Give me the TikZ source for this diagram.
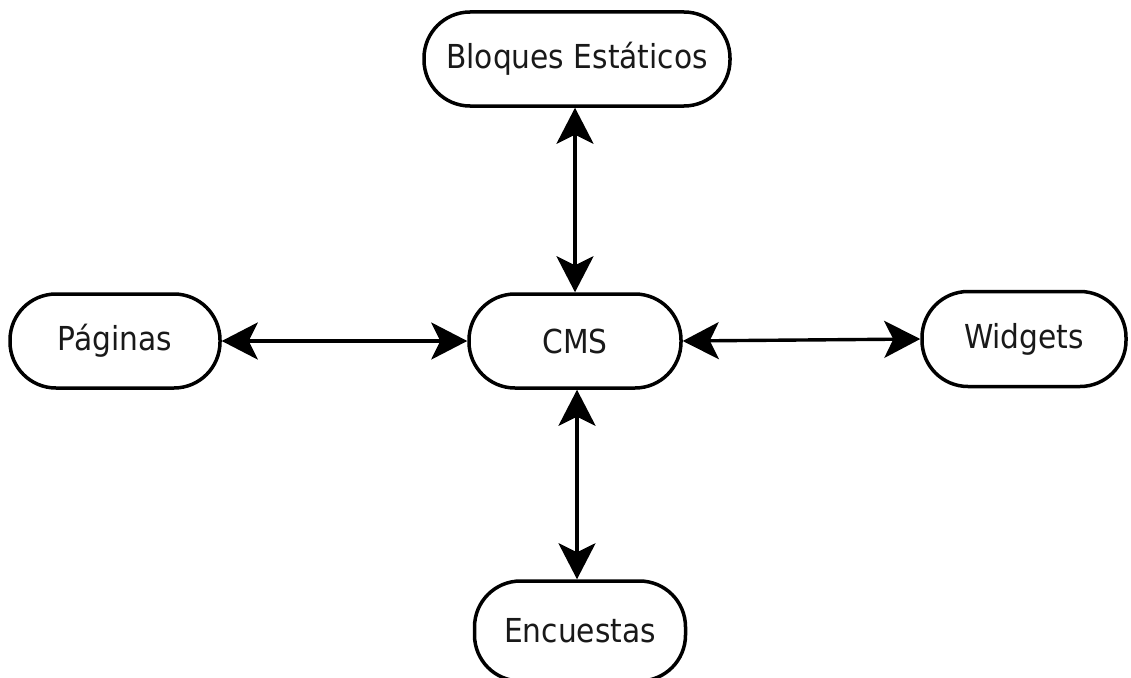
\documentclass[tikz,border=0pt]{standalone}
\usepackage{fontspec}
\setmainfont{DejaVu Sans Condensed}
\usetikzlibrary{arrows.meta}
\tikzset{
  pill/.style={draw=black, line width=3.5pt, fill=white, inner sep=0pt,
    rounded corners=46pt, font=\fontsize{33}{38}\selectfont, text=black!90},
  link/.style={line width=3.4pt, {Stealth[length=36pt,width=37pt,inset=9pt]}-{Stealth[length=36pt,width=37pt,inset=9pt]}}
}
\begin{document}
\begin{tikzpicture}[x=1pt,y=-1pt]
\useasboundingbox (0,0) rectangle (1131,677);
\begin{scope}
\clip (0,0) rectangle (1131,677);
\node[pill, minimum width=306pt, minimum height=94pt] (bloques) at (577,59) {Bloques Estáticos};
\node[pill, minimum width=210pt, minimum height=94pt] (paginas) at (115,341) {Páginas};
\node[pill, minimum width=212pt, minimum height=94pt] (cms) at (575,341) {CMS};
\node[pill, minimum width=204pt, minimum height=95pt] (widgets) at (1024,339) {Widgets};
\node[pill, minimum width=211pt, minimum height=100pt] (encuestas) at (580,631) {Encuestas};
\end{scope}
\draw[link] (bloques.south -| cms.north) -- (cms.north);
\draw[link] (paginas.east) -- (cms.west);
\draw[link] (cms.east) -- (widgets.west);
\draw[link] ([xshift=2pt]cms.south) -- ([xshift=-3pt]encuestas.north);
\end{tikzpicture}
\end{document}
